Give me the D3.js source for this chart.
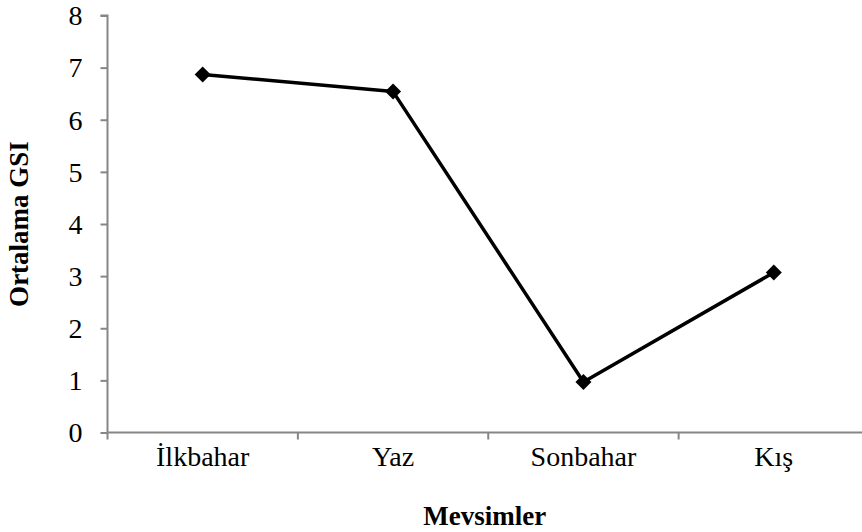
<!DOCTYPE html>
<html><head><meta charset="utf-8">
<script src="https://cdn.jsdelivr.net/npm/d3@7"></script>
<style>body{margin:0;background:#fff}svg{display:block}</style>
</head><body>
<svg id="c" width="862" height="532"></svg>
<script>
const categories = ["İlkbahar", "Yaz", "Sonbahar", "Kış"];
const values = [6.87, 6.54, 0.97, 3.07];
const yTicks = [0, 1, 2, 3, 4, 5, 6, 7, 8];
const xTitle = "Mevsimler";
const yTitle = "Ortalama GSI";

(function () {
const svg = d3.select("#c");
const mLeft = 107.5, mRight = 869, mTop = 15.5, mBottom = 432.5;
const font = "'Liberation Serif', 'Times New Roman', serif";
const axisColor = "#868686";

const x = d3.scaleBand().domain(categories).range([mLeft, mRight]).padding(0);
const y = d3.scaleLinear().domain([0, 8]).range([mBottom, mTop]);

// y axis
const ya = svg.append("g").attr("transform", `translate(${mLeft},0)`)
  .call(d3.axisLeft(y).tickValues(yTicks).tickSize(7).tickPadding(18).tickFormat(d3.format("d")));
ya.select(".domain").attr("stroke", axisColor).attr("stroke-width", 2).attr("d", `M-7,${mTop}H0V${mBottom}`);
ya.selectAll(".tick line").attr("stroke", axisColor).attr("stroke-width", 2);
ya.selectAll(".tick text").attr("font-family", font).attr("font-size", 28).attr("fill", "#000").attr("dy", "0.33em");

// x axis
const xa = svg.append("g").attr("transform", `translate(0,${mBottom})`)
  .call(d3.axisBottom(x).tickSize(0).tickPadding(14));
xa.select(".domain").attr("stroke", axisColor).attr("stroke-width", 2).attr("d", `M${mLeft},0H862`);
xa.selectAll(".tick text").attr("font-family", font).attr("font-size", 28).attr("fill", "#000").attr("dy", "0.71em");
// category boundary ticks
const bounds = categories.map(c => x(c)).concat([x(categories[categories.length-1]) + x.bandwidth()]);
svg.append("g").selectAll("line").data(bounds.filter(b => b <= 862)).join("line")
  .attr("x1", d => d).attr("x2", d => d).attr("y1", mBottom).attr("y2", mBottom + 7)
  .attr("stroke", axisColor).attr("stroke-width", 2);

// line
const cx = c => x(c) + x.bandwidth() / 2;
svg.append("path").datum(values)
  .attr("fill", "none").attr("stroke", "#000").attr("stroke-width", 3.5).attr("stroke-linejoin", "round")
  .attr("d", d3.line().x((d, i) => cx(categories[i])).y(d => y(d)));

// diamonds
svg.append("g").selectAll("path").data(values).join("path")
  .attr("transform", (d, i) => `translate(${cx(categories[i])},${y(d)})`)
  .attr("d", "M0,-8L8,0L0,8L-8,0Z").attr("fill", "#000");

// titles
svg.append("text").attr("x", (mLeft + 862) / 2).attr("y", 525)
  .attr("text-anchor", "middle").attr("font-family", font).attr("font-size", 27).attr("font-weight", "bold")
  .text(xTitle);
svg.append("text").attr("transform", `translate(28,${(mTop + mBottom) / 2}) rotate(-90)`)
  .attr("text-anchor", "middle").attr("font-family", font).attr("font-size", 27).attr("font-weight", "bold")
  .text(yTitle);
})();
</script>
</body></html>
